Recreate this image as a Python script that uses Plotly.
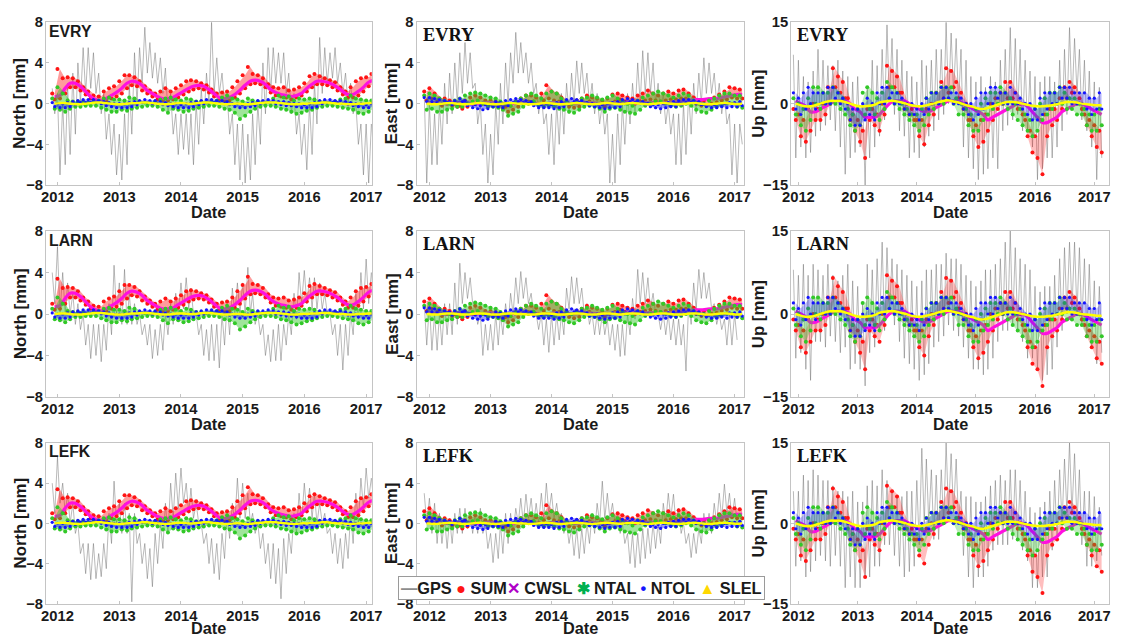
import pandas as pd
import plotly.graph_objects as go
from plotly.subplots import make_subplots

# ---------------------------------------------------------------------------
# Time base: one entry per month (Dec 2011 .. Feb 2017).  Noisy series carry
# two samples per month (upper / lower excursion), smooth series one.
# ---------------------------------------------------------------------------
months = pd.date_range("2011-12-01", periods=63, freq="MS")
t_half = [d + pd.Timedelta(days=k) for d in months for k in (0, 15)]
t_mid = [d + pd.Timedelta(days=14) for d in months]

stations = ["EVRY", "LARN", "LEFK"]
components = ["North", "East", "Up"]
years = [2012, 2013, 2014, 2015, 2016, 2017]

# ----------------------------- GPS residuals [mm] ---------------------------
gps_evry_n = [1.5, -1, 1, -7, 0, -6, 2, -5, 3, -3, 4, 0, 5.5, 1, 5.5, 1.5, 5, 1, 3, -1, 1, -3.5, -1, -5, -2, -7,
              -3, -7.5, -1, -6, 2, -3, 5, 0, 5.5, 2, 7.5, 3, 6, 2.5, 5, 2, 4.5, 1, 3.5, -1, 1, -3, -1, -5,
              -1, -4.5, -1, -5, -1, -6, 0, -4, 1.5, -2, 3, 0, 8, 1, 4.5, 1, 3, 0, 1, -3, -1, -6, -2, -7.5,
              -2, -7.8, -3, -7.5, -1, -6, 0, -4, 4, -1, 5.5, 1, 5.5, 2, 5, 2, 5, 1, 3, -1, 1, -3, -1, -5,
              -2, -6.5, 0, -5, 2, -2, 6.5, 1, 5.5, 2, 5, 2.5, 5.5, 2, 4, 1, 3, 0, 2, -1, 0, -4, -2, -7,
              -2, -7.8, -2, -5]
gps_larn_n = [4, 1, 6.5, 0, 4, 0, 3, 0, 2, -1, 1, -1.5, 0, -3, -1, -4.3, -1, -4, -1, -4.6, -1, -3.5, 1, -2, 4.7, 0,
              3, -1, 4.3, -1, 2, -1, 1, -1, 0, -2, -1, -3, -1, -4.3, -1.5, -4, -1, -3.5, 0, -2, 1, -1, 2, 0,
              3, 0.5, 3.5, 0.5, 2.5, 0, 0, -2, -1, -4, -1.5, -4.5, -1, -4.5, -1, -5.2, 0, -3, 1, -2, 2.5, 0, 3, 0,
              3, 0, 4.5, 0, 2, -1, 0, -2, -1, -4, -2, -4.6, -1.5, -4.5, -1, -4.5, -1, -3, 0, -2, 2, -0.5, 4, 1,
              4.2, 1, 3.5, 0.5, 3.5, 0.5, 3, 0.5, 2, 0, 0, -2, -1, -4, -1, -5.4, -1, -4, 0, -2, 2, -0.5, 4, 0.5,
              5.3, 1, 4, 1]
gps_lefk_n = [4, 1, 6.6, 2, 4, 1, 3, 0, 2, -1, 0, -3, -2, -5, -2, -5.6, -2, -5.5, -3, -5.3, -2, -4.5, 1, -2, 4.2, 0,
              2, -1, 2, -1, 1, -7.8, 1, -2, -1, -4, -2, -5.5, -2.5, -6.3, -1, -4, 0, -2.5, 2, -1, 4, 0.5, 5, 1.5,
              5.5, 2, 4, 1, 3.5, 0.5, 2, 0, 0, -2, -1, -4, -1.5, -5, -2, -5.6, -1, -3.5, 1, -1.5, 2, 0, 4.5, 0.5,
              4, 0.5, 3, 0, 1, -1, 0, -2.5, -1, -4, -2, -5.5, -2, -6, -2.5, -7.5, -1.5, -5, -1, -3, 1, -1, 3, 0,
              4, 1, 3.5, 0.5, 3, 0, 2, 0, 1, -1, -0.5, -3, -1, -4, -1.5, -4.5, -1, -3.5, 1, -2, 3, 0, 4.5, 1.5,
              5.5, 2.5, 4.5, 2]

gps_evry_e = [1, -7.8, 0, -6, -1, -6, 0, -4, 2, -2, 3, -1, 4, 0, 5, 1, 6, 2, 5, 1.5, 2, -2, 0, -5, -2, -7.8,
              -3, -7, 0, -4, 2, -2, 4, 0, 5, 2, 7, 3, 6, 3, 5, 2, 4, 1, 2, -1, 1, -2, -1, -5,
              -1, -6, 0, -4, 1, -3, 2, -1, 3, 0, 4.2, 1, 4, 1, 3, 0, 2, -1, 1, -2, 0, -3, -1, -7.8,
              -3, -7.8, -1, -6, 0, -4, 1, -2, 2, -1, 4, 0, 5.2, 1, 5, 1, 4, 0, 2, -1, 1, -2, 0, -3,
              -1, -6, -1, -6, 0, -5, 1, -3, 2, -1, 3, 0, 4.5, 1, 4, 1, 3, 0, 2, -1, 1, -2, -1, -7,
              -2, -7.8, -2, -4]
gps_larn_e = [1, -3, 1, -3.5, 0, -3.5, 0, -3, 1, -2, 1, -2, 3, -1, 4.9, 1, 4, 1.5, 3.5, 1, 1, -1, 0, -4, -1, -3.5,
              -1, -3.5, 0, -3, 0, -2, 1, -1, 2, 0, 3.5, 1, 4.1, 1.5, 3.5, 1, 2, 0, 0, -1.5, 0, -3, -0.5, -3.7,
              0, -3, 0, -2.5, 0, -2, 2.5, 0.5, 3.6, 1, 3.5, 1, 2.5, 0, 1, -1, 0, -2, 0, -2, 0, -2, -0.5, -3,
              -1, -3.5, -1, -4.1, -1, -4, 0, -2, 1.5, -0.5, 4.3, 1, 4, 1, 3.5, 0.5, 2, 0, 0, -1.5, 0, -2, 0, -2.5,
              -0.5, -3, -0.5, -3, -1, -5.5, 1, -1, 3, 0.5, 4.3, 1.5, 4, 1.5, 3, 0.5, 1, -1, 0, -1.5, -0.5, -3,
              0, -3, 0, -2.5]
gps_lefk_e = [3, 0, 2.5, -1, 2, -2, 1, -2, 0.5, -2.5, 0.5, -2, 1, -1, 1.5, -1, 1.5, -0.5, 1, -1, 1, -1, 1.5, -1, 0, -2.5,
              -1, -3.9, -1, -3.5, 0, -3, 1, -2, 1, -1, 1.5, 0, 2.5, 0, 2.9, 0.5, 2.5, 0, 2, 0, 3, 0.5, 4, 1,
              3, 0.5, 2, 0, 1, -1, 0, -2, -0.5, -3.2, -0.5, -3.5, -0.5, -3, 0, -2, 1, -1, 2, 0, 4.2, 0.5,
              3, 0.5, 2, 0, 1, -1, 0, -2, -1, -4, -1, -4.4, -1, -4, -0.5, -3.5, -0.5, -3, 0, -2.5, 0, -2, 2, 0,
              3, 0.5, 2.9, 0, 1.5, -1, 0, -2, -1, -3.4, -1, -3, -0.5, -2, 1, -1, 1, -1, 2, 0, 3, 0.5, 3.9, 1,
              3, 0.5, 2.5, 0]

gps_evry_u = [9, -10, 8, -8, 5, -10, 4, -9, 6, -6, 10, -5, 8, -4, 7, -3, 7, -5, 8, -8, 6, -13, 5, -10, 4, -9,
              5, -8, 0, -15, 3, -10, 8, -8, 7, -6, 10, -3, 14.5, 0, 12, -2, 10, -5, 8, -6, 6, -10, 5, -9,
              4, -10, 8, -8, 7, -6, 8, -5, 10, -3, 10, -2, 15, 0, 13, 2, 12, 0, 10, -8, 8, -10, 5, -12,
              4, -14, 5, -13, 3, -12, 5, -10, 4, -12, 8, -5, 10, -4, 14, -3, 12, -2, 10, -5, 8, -5, 6, -8,
              5, -14, 4, -12, 5, -10, 5, -10, 4, -8, 8, -5, 10, -2, 14, 0, 12, 2, 10, -3, 8, -5, 6, -8,
              4, -14, 3, -10]
gps_larn_u = [8, -8, 7, -7, 9, -10, 7, -12, 9, -5, 8, -5, 7, -6, 9, -4, 7, -5, 6, -7, 7, -6, 9, -10, 6, -9,
              5, -10, 2, -13, 9, -7, 8, -6, 10, -3, 13, -3, 12, 0, 10, -2, 9, -5, 8, -8, 7, -9, 6, -10,
              5, -12, 6, -11, 8, -9, 8, -6, 9, -5, 9, -4, 11, -2, 10, -3, 10, -4, 9, -6, 7, -8, 6, -10,
              5, -10, 6, -11, 8, -10, 8, -8, 9, -5, 10, -3, 13, -3, 15, -2, 12, -3, 10, -5, 9, -8, 8, -8,
              5, -10, 4, -12, 5, -11, 5, -10, 7, -6, 10, -3, 12, 0, 13, 1, 13, 0, 12, -2, 10, -4, 9, -6,
              6, -9, 5, -7]
gps_lefk_u = [6, -8, 6, -7, 9, -10, 8, -9, 10, -7, 9, -6, 8, -7, 8, -8, 7, -6, 6, -8, 6, -12, 5, -10, 6, -12,
              4, -12, 4, -10, 7, -10, 8, -8, 7, -8, 10, -4, 8, -4, 6, -6, 5, -8, 5, -10, 6, -9, 6, -8,
              8, -4, 14, 0, 12, 0, 10, -3, 9, -3, 10, 0, 15, 2, 13, 2, 12, 0, 6, -6, 5, -10, 5, -12,
              4, -10, 4, -10, 5, -8, 7, -5, 8, -4, 9, -4, 8, -4, 10, -3, 10, -3, 8, -5, 6, -7, 3, -12,
              2, -12, 3, -10, 4, -10, 6, -5, 8, -3, 10, 0, 12, 2, 15, 2, 13, 0, 10, -4, 6, -8, 6, -8,
              5, -7, 3, -6]

# ------------------------- modelled loading series [mm] ---------------------
# noisy model series: (upper, lower) excursion per month, flattened
north_sum = [1.0, 0.4, 3.4, 0.5, 2.5, 1.0, 2.6, 1.6, 2.5, 1.6, 2.2, 1.3, 1.6, 0.9, 1.2, 0.5, 0.8, 0.3, 0.7, 0.2, 1.2, 0.3, 1.5, 0.5, 1.7, 0.7,
             2.2, 1.0, 2.8, 1.5, 2.8, 1.8, 2.6, 1.7, 2.2, 1.3, 1.7, 1.0, 1.3, 0.7, 1.0, 0.4, 1.2, 0.3, 1.5, 0.3, 1.2, 0.4, 1.5, 0.6,
             1.8, 0.9, 2.2, 1.2, 2.3, 1.4, 2.2, 1.5, 2.0, 1.4, 1.8, 1.1, 1.4, 0.7, 1.0, 0.4, 1.1, 0.3, 1.2, 0.3, 1.6, 0.6, 2.2, 1.0,
             2.8, 1.5, 3.6, 1.9, 2.9, 2.0, 2.8, 1.9, 2.5, 1.6, 1.9, 1.1, 1.6, 0.8, 1.5, 0.7, 1.6, 0.6, 1.3, 0.4, 1.4, 0.6, 1.6, 0.8,
             2.0, 1.2, 2.7, 1.6, 2.9, 1.9, 2.7, 1.9, 2.5, 1.8, 2.3, 1.6, 2.1, 1.3, 1.6, 0.9, 1.2, 0.6, 1.6, 0.6, 2.2, 0.8, 2.5, 1.2,
             2.6, 1.7, 2.9, 1.9]
north_cwsl = [0.7, 0.8, 1.5, 2.0, 2.0, 1.7, 1.2, 0.7, 0.4, 0.3, 0.5, 0.8, 1.1,
              1.5, 2.0, 2.2, 2.1, 1.8, 1.3, 1.0, 0.7, 0.5, 0.5, 0.6, 0.9,
              1.2, 1.5, 1.7, 1.8, 1.7, 1.4, 1.0, 0.6, 0.5, 0.6, 0.9, 1.3,
              1.8, 2.2, 2.3, 2.2, 1.9, 1.4, 1.1, 0.9, 0.8, 0.7, 0.8, 1.0,
              1.5, 1.9, 2.2, 2.2, 2.1, 1.9, 1.6, 1.2, 0.9, 0.9, 1.2, 1.6,
              2.1, 2.3]
north_ntal = [0.5, -0.5, 1.6, -0.6, 1.0, -0.8, 0.3, -0.5, 0.2, -0.3, 0.2, -0.3, 0.2, -0.2, 0.1, -0.2, 0.2, -0.2, 0.3, -0.4, 0.5, -0.6, 0.6, -0.8, 0.4, -0.8,
              0.4, -0.6, 0.3, -0.7, 0.6, -0.5, 0.5, -0.4, 0.2, -0.3, 0.1, -0.2, 0.1, -0.2, 0.2, -0.3, 0.4, -0.6, 0.5, -0.9, 0.6, -0.5, 0.4, -0.6,
              0.3, -0.8, 0.5, -0.7, 0.4, -0.5, 0.2, -0.4, 0.2, -0.3, 0.1, -0.2, 0.2, -0.2, 0.3, -0.3, 0.6, -0.5, 0.8, -0.6, 0.5, -0.9, 0.4, -1.5,
              0.2, -1.2, 0.5, -0.8, 0.3, -0.5, 0.2, -0.3, 0.1, -0.2, 0.2, -0.2, 0.5, -0.3, 0.8, -0.5, 0.6, -0.6, 0.7, -0.8, 0.3, -1.0, 0.5, -0.9,
              0.4, -0.7, 0.5, -0.6, 0.4, -0.4, 0.2, -0.3, 0.2, -0.2, 0.1, -0.2, 0.2, -0.3, 0.4, -0.4, 0.5, -0.5, 0.8, -0.6, 0.5, -0.9, 0.4, -1.0,
              0.3, -0.8, 0.3, -0.5]
north_ntol = [0.1, -0.3, 0.0, -0.4, 0.0, -0.4, 0.1, -0.3, 0.2, -0.1, 0.3, 0.1, 0.4, 0.1, 0.4, 0.1, 0.4, 0.1, 0.3, 0.0, 0.2, -0.2, 0.1, -0.3, 0.0, -0.4,
              0.0, -0.4, 0.0, -0.4, 0.1, -0.3, 0.2, -0.1, 0.3, 0.1, 0.4, 0.1, 0.3, 0.0, 0.3, 0.0, 0.2, -0.1, 0.1, -0.2, 0.0, -0.3, 0.0, -0.4,
              -0.1, -0.4, 0.0, -0.4, 0.1, -0.3, 0.2, -0.1, 0.3, 0.0, 0.4, 0.1, 0.4, 0.1, 0.3, 0.1, 0.3, 0.0, 0.2, -0.1, 0.0, -0.3, 0.0, -0.4,
              -0.1, -0.4, 0.0, -0.3, 0.1, -0.2, 0.3, 0.0, 0.3, 0.1, 0.4, 0.1, 0.3, 0.0, 0.2, -0.1, 0.2, -0.2, 0.1, -0.2, 0.0, -0.3, 0.0, -0.4,
              -0.1, -0.4, 0.0, -0.4, 0.1, -0.3, 0.3, 0.0, 0.4, 0.1, 0.4, 0.1, 0.3, 0.1, 0.3, 0.0, 0.2, -0.1, 0.1, -0.2, 0.0, -0.3, 0.0, -0.4,
              -0.1, -0.4, 0.0, -0.3]
north_slel = [0.0, 0.05, 0.05, 0.0, -0.05, -0.05, 0.0, 0.05, 0.1, 0.1, 0.05, 0.0, -0.05,
              -0.05, 0.0, 0.05, 0.05, 0.1, 0.1, 0.05, 0.0, -0.05, -0.05, 0.0, 0.05,
              0.05, 0.0, 0.0, 0.05, 0.1, 0.1, 0.05, 0.0, -0.05, -0.05, 0.0, 0.0,
              -0.05, -0.05, 0.0, 0.05, 0.1, 0.1, 0.1, 0.05, 0.0, -0.05, -0.05, 0.0,
              0.0, 0.05, 0.05, 0.1, 0.1, 0.05, 0.0, 0.0, -0.05, -0.05, 0.0, 0.0,
              0.05, 0.05]

east_sum = [1.2, 0.3, 1.5, 0.5, 1.0, 0.2, 0.5, -0.2, 0.5, 0.0, 0.3, -0.2, 0.0, -0.3, -0.2, -0.5, 0.3, -0.3, 0.6, 0.0, 0.8, 0.2, 0.6, 0.0, 0.3, -0.2,
            0.3, -0.2, 0.2, -0.3, 0.0, -0.5, -0.3, -0.8, -0.2, -0.6, 0.2, -0.3, 0.5, 0.0, 0.8, 0.2, 0.8, 0.2, 0.6, 0.0, 1.0, 0.3, 1.8, 0.5,
            1.2, 0.3, 1.0, 0.2, 0.6, 0.0, 0.2, -0.3, 0.0, -0.4, 0.3, -0.3, 0.5, 0.0, 0.8, 0.2, 0.6, 0.0, 0.5, 0.0, 0.3, -0.3, 0.5, 0.0,
            0.9, 0.2, 1.0, 0.4, 0.8, 0.2, 0.6, 0.1, 0.5, 0.0, 0.8, 0.2, 1.0, 0.3, 1.3, 0.4, 1.0, 0.3, 0.8, 0.2, 1.0, 0.3, 1.2, 0.4,
            1.0, 0.4, 1.3, 0.5, 1.4, 0.5, 1.0, 0.3, 0.6, 0.0, 0.3, -0.2, 0.3, -0.2, 0.4, 0.0, 0.6, 0.1, 0.9, 0.3, 1.2, 0.4, 1.6, 0.6,
            1.5, 0.5, 1.4, 0.5]
east_cwsl = [0.1, 0.1, 0.05, 0.0, 0.0, 0.05, 0.1, 0.1, 0.05, 0.0, 0.0, 0.05, 0.1,
             0.1, 0.05, 0.0, -0.05, 0.0, 0.05, 0.1, 0.1, 0.05, 0.0, 0.0, 0.05,
             0.1, 0.1, 0.05, 0.0, 0.0, 0.05, 0.1, 0.1, 0.05, 0.0, 0.0, 0.05,
             0.1, 0.1, 0.1, 0.05, 0.05, 0.1, 0.1, 0.15, 0.1, 0.1, 0.1, 0.15,
             0.2, 0.25, 0.3, 0.35, 0.4, 0.4, 0.45, 0.5, 0.5, 0.6, 0.7, 0.8,
             0.9, 0.9]
east_ntal = [0.8, -0.6, 1.0, -0.5, 0.8, -0.8, 0.5, -0.8, 0.3, -0.6, 0.0, -0.5, 0.3, -0.3, 0.5, -0.3, 0.8, 0.0, 1.0, 0.2, 1.1, 0.3, 1.0, 0.0, 0.8, -0.3,
             0.6, -0.3, 0.5, -0.4, 0.2, -0.6, 0.0, -1.2, -0.2, -1.0, 0.2, -0.8, 0.5, -0.3, 0.8, 0.0, 1.0, 0.2, 0.8, -0.2, 0.5, -0.3, 1.0, -0.2,
             1.2, -0.3, 1.0, -0.5, 0.5, -0.6, 0.2, -0.8, 0.0, -0.9, 0.2, -0.6, 0.5, -0.3, 0.6, -0.2, 0.8, -0.3, 0.6, -0.5, 0.4, -0.8, 0.6, -0.5,
             0.8, -0.4, 0.5, -0.6, 0.3, -0.8, 0.0, -0.9, -0.2, -1.0, 0.3, -0.6, 0.6, -0.2, 0.8, 0.0, 1.0, 0.2, 1.2, 0.2, 1.0, 0.0, 0.8, -0.2,
             0.6, -0.3, 0.8, -0.2, 1.0, 0.0, 0.8, -0.2, 0.3, -0.6, 0.0, -0.8, 0.0, -0.9, 0.3, -0.6, 0.5, -0.3, 0.8, -0.2, 1.0, 0.0, 1.0, 0.0,
             0.8, -0.3, 0.8, -0.4]
east_ntol = [0.6, 0.2, 0.6, 0.2, 0.5, 0.1, 0.4, 0.0, 0.3, 0.1, 0.2, -0.1, 0.3, 0.0, 0.5, 0.2, 0.3, -0.2, 0.0, -0.4, -0.1, -0.5, -0.2, -0.6, -0.1, -0.5,
             0.0, -0.3, 0.2, -0.3, 0.1, -0.4, 0.3, -0.2, 0.4, 0.1, 0.5, 0.2, 0.4, 0.1, 0.3, 0.0, 0.2, -0.2, 0.0, -0.4, -0.1, -0.4, 0.0, -0.4,
             -0.1, -0.5, 0.1, -0.4, 0.2, -0.3, 0.4, 0.0, 0.5, 0.2, 0.4, 0.1, 0.3, 0.0, 0.1, -0.2, 0.0, -0.3, 0.0, -0.4, -0.1, -0.5, 0.0, -0.4,
             0.1, -0.4, 0.2, -0.3, 0.4, 0.0, 0.5, 0.2, 0.4, 0.1, 0.3, 0.0, 0.2, -0.1, 0.0, -0.3, -0.1, -0.4, -0.1, -0.5, 0.0, -0.4, 0.1, -0.3,
             0.2, -0.3, 0.3, -0.1, 0.4, 0.1, 0.4, 0.1, 0.3, 0.0, 0.2, -0.1, 0.0, -0.3, -0.1, -0.4, -0.1, -0.4, 0.0, -0.3, 0.0, -0.4, 0.1, -0.3,
             0.1, -0.3, 0.2, -0.2]
east_slel = [0.0, -0.05, -0.05, 0.0, 0.05, 0.05, 0.0, -0.05, -0.05, 0.0, 0.05, 0.05, 0.0,
             -0.05, -0.05, 0.0, 0.05, 0.05, 0.0, 0.0, -0.05, -0.05, 0.0, 0.05, 0.05,
             0.0, -0.05, -0.05, 0.0, 0.05, 0.05, 0.0, -0.05, -0.05, 0.0, 0.05, 0.05,
             0.0, -0.05, 0.0, 0.05, 0.05, 0.0, -0.05, -0.05, 0.0, 0.05, 0.05, 0.0,
             -0.05, -0.05, 0.0, 0.05, 0.05, 0.0, -0.05, -0.05, 0.0, 0.05, 0.05, 0.0,
             -0.05, 0.0]

up_sum = [-1, -3, -2, -6, -3, -7, -1, -5, 0, -3, -1, -3, 0, -2, 3, 0, 6.5, 3, 5, 2, 4, 1, 1, -3, -2, -5,
          -3, -7, -5, -10, -1, -3, -1, -4, -2, -5, 0, -2, 7, 3, 6, 3, 5, 2, 2, -1, 0, -2, -1, -3,
          -3, -6, -3, -7.5, -1, -4, 0, -2, 2, 0, 4, 1, 6.5, 2, 6, 3, 4, 1, 2, -1, 0, -3, -3, -6,
          -4, -8, -3, -7, -2, -5, 0, -3, 1, -1, 2, 0, 4, 1, 4, 1, 2, -1, 0, -2, -3, -6, -5, -9,
          -6, -10, -3, -13, -2, -6, -1, -4, -1, -3, 1, -1, 3, 1, 4, 2, 3, 0, 1, -1, -2, -4, -3, -6,
          -4, -8, -5, -9]
up_cwsl = [0.5, 0, -0.5, -1.5, -1.5, -1, -0.5, 0, 0.5, 0.5, 0.5, 0, -1,
           -1.5, -2.5, -2.5, -2.5, -2, -1, 0, 0.5, 0.5, 0.5, 0, -0.5,
           -1, -1.5, -1.5, -1, -0.5, 0, 0.5, 0.5, 0.5, 0, -0.5, -1,
           -1.5, -2, -3, -2.5, -2, -1.5, -1, -0.5, 0, 0, -0.5, -1.5,
           -2.5, -3.5, -3.5, -3, -2.5, -1.5, -1, -0.5, 0, 0, -0.5, -1,
           -1.5, -2]
up_ntal = [1, -2, 0, -4, -1, -5, 1, -3, 3, 0, 3, -1, 2, 0, 2, 0, 3, 0, 2, -1, 1, -2, -1, -4, -2, -5,
           -1, -4, 2, -2, 3, -1, 2, -2, 1, -3, 2, -1, 4, 1, 3, 0, 2, -1, 0, -2, -1, -3, -2, -4,
           -2, -5, -1, -4, 1, -2, 2, -1, 2, 0, 3, 0, 3, 1, 3, 0, 1, -2, 0, -2, -1, -4, -2, -5,
           -1, -5, 0, -3, 1, -2, 2, -1, 2, 0, 3, 0, 2, -1, 1, -2, 0, -3, -1, -4, -2, -5, -3, -6,
           -1, -5, 0, -3, 1, -2, 2, -1, 2, 0, 3, 0, 2, -1, 1, -1, 1, -2, 0, -2, -1, -4, -2, -5,
           -2, -5, -1, -4]
up_ntol = [2, -1, 1, -2, 2, -1, 3, 0, 2, -1, 2, 0, 2, 0, 3, 0, 3, 1, 2, 0, 1, -1, 0, -3, -1, -4,
           -1, -4, 0, -3, 1, -2, 0, -3, 2, 0, 3, 0, 3, 1, 2, 0, 2, 0, 1, -1, 0, -2, 0, -2,
           -1, -3, 0, -2, 1, -1, 2, 0, 2, 0, 3, 1, 3, 1, 2, 0, 2, 0, 1, -1, 0, -2, 0, -3,
           1, -2, 2, -1, 2, 0, 3, 0, 3, 1, 2, 0, 2, 0, 3, 0, 2, 0, 1, -1, 0, -2, 0, -3,
           -1, -3, 1, -2, 2, -1, 2, 0, 2, 0, 3, 1, 3, 1, 3, 0, 2, 0, 2, 0, 2, -1, 1, -2,
           1, -1, 2, -1]
up_slel = [0, -0.3, -0.5, -0.5, -0.3, 0, 0.3, 0.5, 0.5, 0.5, 0.3, 0, -0.3,
           -0.5, -0.5, -0.4, -0.2, 0.2, 0.4, 0.5, 0.5, 0.3, 0.1, -0.2, -0.4,
           -0.5, -0.4, -0.2, 0, 0.3, 0.5, 0.6, 0.4, 0.2, -0.1, -0.4, -0.6,
           -0.9, -1.0, -0.8, -0.5, -0.2, 0.1, 0.3, 0.3, 0.2, 0, -0.2, -0.4,
           -0.5, -0.5, -0.4, -0.3, -0.1, 0.1, 0.3, 0.3, 0.2, 0, -0.1, -0.2,
           -0.3, -0.3]

gps = {
    ("EVRY", "North"): gps_evry_n, ("EVRY", "East"): gps_evry_e, ("EVRY", "Up"): gps_evry_u,
    ("LARN", "North"): gps_larn_n, ("LARN", "East"): gps_larn_e, ("LARN", "Up"): gps_larn_u,
    ("LEFK", "North"): gps_lefk_n, ("LEFK", "East"): gps_lefk_e, ("LEFK", "Up"): gps_lefk_u,
}
models = {
    "North": (north_sum, north_cwsl, north_ntal, north_ntol, north_slel),
    "East": (east_sum, east_cwsl, east_ntal, east_ntol, east_slel),
    "Up": (up_sum, up_cwsl, up_ntal, up_ntol, up_slel),
}

# ------------------------------- layout -------------------------------------
W, H = 1121, 643
# The page keeps the browser's 8 px body margin and is then fitted to the
# window, so window positions are mapped back onto that slightly larger sheet.
SX, SY = (W + 16) / W, (H + 16) / H
FS = (SX + SY) / 2


def px(x):            # window x -> paper fraction
    return (x * SX - 8) / W


def py(y):            # window y (from the top) -> paper fraction
    return 1 - (y * SY - 8) / H


def f(size):
    return round(size * FS, 2)


C_GPS = "rgba(110,110,110,0.6)"
SANS = "Liberation Sans, Arial, sans-serif"
SERIF = "Liberation Serif, Times New Roman, serif"
INK = "#1a1a1a"

col_px = [(45, 372), (417, 746), (793, 1112)]
row_px = [(22, 185), (231, 397), (443, 604)]
date_gap = [27, 27, 24]
ytitle_x = [19, 392, 760]
x_ranges = [("2011-10-25", "2017-02-03"), ("2011-10-16", "2017-02-28"), ("2011-11-17", "2017-04-01")]
y_ranges = {"North": (-8, 8), "East": (-8, 8), "Up": (-15, 15)}
y_ticks = {"North": [-8, -4, 0, 4, 8], "East": [-8, -4, 0, 4, 8], "Up": [-15, 0, 15]}
cloud_alpha = {"North": 0.42, "East": 0.42, "Up": 0.28}


def add_cloud(fig, vals, rgb, size, alpha, row, col):
    """Scattered model values: shaded spread between monthly extremes plus the samples."""
    upper, lower = vals[0::2], vals[1::2]
    fig.add_trace(go.Scatter(x=t_mid, y=upper, mode="lines", line=dict(width=0, color=f"rgb{rgb}"),
                             hoverinfo="skip"), row=row, col=col)
    fig.add_trace(go.Scatter(x=t_mid, y=lower, mode="lines", line=dict(width=0, color=f"rgb{rgb}"),
                             fill="tonexty", fillcolor=f"rgba{rgb + (alpha,)}", hoverinfo="skip"),
                  row=row, col=col)
    fig.add_trace(go.Scatter(x=t_half, y=vals, mode="markers",
                             marker=dict(color=f"rgb{rgb}", size=size)), row=row, col=col)


fig = make_subplots(rows=3, cols=3)

for r, st in enumerate(stations):
    for c, comp in enumerate(components):
        s_sum, s_cwsl, s_ntal, s_ntol, s_slel = models[comp]
        R, Cc = r + 1, c + 1
        a = cloud_alpha[comp]
        fig.add_trace(go.Scatter(x=t_half, y=gps[(st, comp)], mode="lines",
                                 line=dict(color=C_GPS, width=0.8)), row=R, col=Cc)
        add_cloud(fig, s_sum, (255, 20, 20), 4, a, R, Cc)
        fig.add_trace(go.Scatter(x=t_mid, y=s_cwsl, mode="lines",
                                 line=dict(color="#ff10e0", width=3.2, shape="spline")), row=R, col=Cc)
        add_cloud(fig, s_ntal, (50, 200, 40), 4, a + 0.05, R, Cc)
        add_cloud(fig, s_ntol, (20, 20, 255), 3.2, a, R, Cc)
        fig.add_trace(go.Scatter(x=t_mid, y=s_slel, mode="lines",
                                 line=dict(color="#ffff00", width=2.5, shape="spline")), row=R, col=Cc)

        n = r * 3 + c + 1
        ref = "" if n == 1 else str(n)
        x0, x1 = col_px[c]
        y0, y1 = row_px[r]
        xa = dict(domain=[px(x0), px(x1)], type="date", range=list(x_ranges[c]),
                  tickmode="array", tickvals=[f"{y}-01-01" for y in years], ticktext=[str(y) for y in years],
                  showline=True, mirror=True, linecolor="#c4c4c4", linewidth=1,
                  ticks="inside", ticklen=3, tickcolor="#c4c4c4", showgrid=False, zeroline=False,
                  ticklabelstandoff=-2,
                  tickfont=dict(family=SANS, size=f(14.5), color=INK, weight="bold"))
        lo, hi = y_ranges[comp]
        ya = dict(domain=[py(y1), py(y0)], range=[lo, hi],
                  tickmode="array", tickvals=y_ticks[comp],
                  showline=True, mirror=True, linecolor="#c4c4c4", linewidth=1,
                  ticks="inside", ticklen=3, tickcolor="#c4c4c4", showgrid=False, zeroline=False,
                  ticklabelstandoff=-1,
                  tickfont=dict(family=SANS, size=f(14.5), color=INK, weight="bold"))
        fig.layout[f"xaxis{ref}"].update(xa)
        fig.layout[f"yaxis{ref}"].update(ya)

        # axis titles
        fig.add_annotation(text="Date", xref="paper", yref="paper",
                           x=px((x0 + x1) / 2), y=py(y1 + date_gap[r]), xanchor="center", yanchor="middle",
                           showarrow=False, font=dict(family=SANS, size=f(16), color=INK, weight="bold"))
        fig.add_annotation(text=f"{comp} [mm]", xref="paper", yref="paper", textangle=-90,
                           x=px(ytitle_x[c]), y=py((y0 + y1) / 2), xanchor="center", yanchor="middle",
                           showarrow=False, font=dict(family=SANS, size=f(16.5), color=INK, weight="bold"))

        # station name in the upper-left corner
        if c == 0:
            fnt = dict(family=SANS, size=f(15.5), color=INK, weight="bold")
            sx, sy = x0 + 1, y0 + 9
        else:
            fnt = dict(family=SERIF, size=f(18), color="#111111", weight="bold")
            sx, sy = x0 + 4, y0 + 13
        fig.add_annotation(text=st, xref="paper", yref="paper", x=px(sx), y=py(sy),
                           xanchor="left", yanchor="middle", showarrow=False, font=fnt)

# legend box drawn inside the lower-middle panel
legend_txt = ("<span style='color:#8c8c8c'>\u2014</span>GPS "
              "<span style='color:#ff1414'>\u25cf</span> SUM"
              "<span style='color:#b000c8'>\u2715</span> CWSL "
              "<span style='color:#00b050'>\u2731</span> NTAL "
              "<span style='color:#1414ff'>\u2022</span> NTOL "
              "<span style='color:#ffd800'>\u25b2</span> SLEL")
fig.add_annotation(text=legend_txt, xref="paper", yref="paper", x=px((400 + 765) / 2), y=py(588),
                   xanchor="center", yanchor="middle", showarrow=False,
                   font=dict(family=SANS, size=f(16), color=INK, weight="bold"),
                   bgcolor="white", bordercolor="#9a9a9a", borderwidth=1, borderpad=2)

fig.update_traces(showlegend=False)
fig.update_layout(width=W, height=H, margin=dict(l=0, r=0, t=0, b=0),
                  paper_bgcolor="white", plot_bgcolor="white", showlegend=False)

fig.write_html("out.html")
